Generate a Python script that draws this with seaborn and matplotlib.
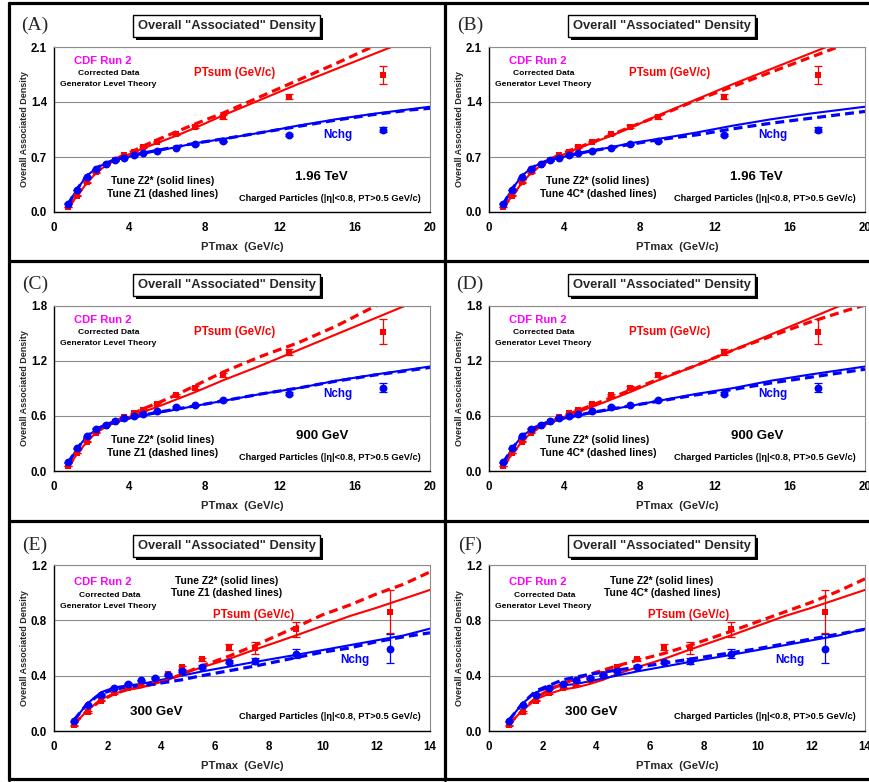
import numpy as np
import pandas as pd
import matplotlib
matplotlib.use("Agg")
import matplotlib.pyplot as plt
import seaborn as sns
from matplotlib.patches import Rectangle
from matplotlib.lines import Line2D

# ---------------- data ----------------
pt_bins = [0.75, 1.25, 1.75, 2.25, 2.75, 3.25, 3.75, 4.25, 4.75, 5.5, 6.5, 7.5, 9.0, 12.5, 17.5]
pt_bins_300 = [0.75, 1.25, 1.75, 2.25, 2.75, 3.25, 3.75, 4.25, 4.75, 5.5, 6.5, 7.5, 9.0, 12.5]

nchg_1960 = [0.106, 0.28, 0.44, 0.545, 0.61, 0.66, 0.69, 0.72, 0.75, 0.78, 0.82, 0.86, 0.90, 0.976, 1.05]
nchg_1960_err = [0.005, 0.005, 0.005, 0.005, 0.005, 0.005, 0.005, 0.005, 0.005, 0.005, 0.01, 0.01, 0.01, 0.015, 0.03]
ptsum_1960 = [0.063, 0.207, 0.376, 0.503, 0.60, 0.66, 0.72, 0.77, 0.83, 0.896, 0.99, 1.086, 1.21, 1.466, 1.74]
ptsum_1960_err = [0.005, 0.005, 0.005, 0.005, 0.005, 0.005, 0.005, 0.005, 0.01, 0.01, 0.01, 0.015, 0.02, 0.03, 0.115]

nchg_900 = [0.095, 0.25, 0.38, 0.46, 0.505, 0.545, 0.58, 0.595, 0.62, 0.65, 0.695, 0.715, 0.775, 0.845, 0.91]
nchg_900_err = [0.005, 0.005, 0.005, 0.005, 0.005, 0.005, 0.005, 0.005, 0.005, 0.005, 0.01, 0.01, 0.01, 0.015, 0.05]
ptsum_900 = [0.055, 0.196, 0.32, 0.42, 0.495, 0.54, 0.59, 0.63, 0.67, 0.735, 0.83, 0.91, 1.045, 1.30, 1.52]
ptsum_900_err = [0.005, 0.005, 0.005, 0.005, 0.005, 0.005, 0.005, 0.005, 0.01, 0.01, 0.01, 0.015, 0.02, 0.035, 0.14]

nchg_300 = [0.07, 0.186, 0.263, 0.311, 0.343, 0.367, 0.386, 0.403, 0.435, 0.464, 0.50, 0.505, 0.56, 0.596]
nchg_300_err = [0.005, 0.005, 0.005, 0.005, 0.005, 0.005, 0.005, 0.005, 0.005, 0.01, 0.01, 0.02, 0.03, 0.105]
ptsum_300 = [0.041, 0.138, 0.22, 0.275, 0.311, 0.33, 0.37, 0.415, 0.46, 0.517, 0.606, 0.60, 0.736, 0.862]
ptsum_300_err = [0.005, 0.005, 0.005, 0.005, 0.005, 0.005, 0.005, 0.005, 0.01, 0.01, 0.02, 0.04, 0.055, 0.155]

# theory curves (generator level)
pt_theory = [0.75, 1.25, 1.75, 2.25, 2.75, 3.25, 3.75, 4.25, 4.75, 5.5, 6.5, 7.5, 9, 11, 13, 15, 17, 19, 20]
pt_theory_300 = [0.75, 1.25, 1.75, 2.25, 2.75, 3.25, 3.75, 4.25, 4.75, 5.5, 6.5, 7.5, 9, 10, 11, 12, 13, 14]

z2_nchg_1960 = [0.10, 0.30, 0.46, 0.56, 0.62, 0.66, 0.69, 0.72, 0.745, 0.78, 0.825, 0.875, 0.93, 1.01, 1.10, 1.18, 1.25, 1.31, 1.34]
z1_nchg_1960 = [0.10, 0.30, 0.46, 0.56, 0.62, 0.665, 0.695, 0.725, 0.75, 0.785, 0.83, 0.875, 0.93, 1.01, 1.09, 1.17, 1.24, 1.30, 1.32]
c4_nchg_1960 = [0.10, 0.30, 0.46, 0.56, 0.62, 0.665, 0.695, 0.72, 0.745, 0.78, 0.82, 0.86, 0.92, 0.98, 1.06, 1.13, 1.19, 1.25, 1.28]
z2_ptsum_1960 = [0.06, 0.21, 0.37, 0.50, 0.59, 0.66, 0.71, 0.76, 0.81, 0.88, 0.97, 1.07, 1.23, 1.43, 1.63, 1.82, 2.01, 2.20, 2.30]
z1_ptsum_1960 = [0.06, 0.22, 0.38, 0.51, 0.60, 0.67, 0.73, 0.78, 0.84, 0.92, 1.02, 1.12, 1.26, 1.47, 1.68, 1.89, 2.11, 2.32, 2.42]
c4_ptsum_1960 = [0.06, 0.21, 0.37, 0.50, 0.60, 0.67, 0.73, 0.78, 0.82, 0.89, 0.98, 1.08, 1.22, 1.42, 1.60, 1.78, 1.96, 2.14, 2.23]

z2_nchg_900 = [0.09, 0.25, 0.38, 0.45, 0.50, 0.535, 0.56, 0.585, 0.605, 0.635, 0.67, 0.71, 0.765, 0.84, 0.905, 0.985, 1.05, 1.11, 1.14]
z1_nchg_900 = [0.09, 0.25, 0.38, 0.455, 0.505, 0.54, 0.565, 0.59, 0.61, 0.64, 0.675, 0.71, 0.765, 0.84, 0.905, 0.98, 1.045, 1.10, 1.13]
c4_nchg_900 = [0.09, 0.25, 0.38, 0.455, 0.505, 0.54, 0.565, 0.59, 0.61, 0.64, 0.675, 0.71, 0.76, 0.83, 0.89, 0.96, 1.02, 1.08, 1.11]
z2_ptsum_900 = [0.05, 0.19, 0.32, 0.42, 0.48, 0.53, 0.57, 0.61, 0.645, 0.70, 0.78, 0.86, 0.99, 1.15, 1.32, 1.49, 1.66, 1.83, 1.91]
z1_ptsum_900 = [0.05, 0.19, 0.33, 0.43, 0.49, 0.54, 0.59, 0.63, 0.68, 0.74, 0.83, 0.93, 1.08, 1.25, 1.40, 1.58, 1.79, 1.98, 2.07]
c4_ptsum_900 = [0.05, 0.19, 0.32, 0.42, 0.49, 0.54, 0.58, 0.62, 0.66, 0.72, 0.80, 0.88, 1.00, 1.15, 1.32, 1.47, 1.62, 1.75, 1.81]

z2_nchg_300 = [0.08, 0.20, 0.28, 0.315, 0.33, 0.34, 0.36, 0.38, 0.40, 0.43, 0.465, 0.50, 0.55, 0.585, 0.62, 0.655, 0.69, 0.74]
z1_nchg_300 = [0.08, 0.20, 0.27, 0.30, 0.32, 0.33, 0.34, 0.355, 0.37, 0.40, 0.435, 0.47, 0.53, 0.57, 0.60, 0.645, 0.68, 0.71]
c4_nchg_300 = [0.08, 0.20, 0.29, 0.33, 0.37, 0.39, 0.41, 0.425, 0.44, 0.46, 0.49, 0.52, 0.565, 0.595, 0.63, 0.665, 0.70, 0.735]
z2_ptsum_300 = [0.05, 0.15, 0.23, 0.27, 0.30, 0.315, 0.34, 0.37, 0.41, 0.46, 0.52, 0.59, 0.69, 0.76, 0.83, 0.89, 0.955, 1.02]
z1_ptsum_300 = [0.05, 0.15, 0.22, 0.27, 0.30, 0.32, 0.34, 0.37, 0.41, 0.47, 0.54, 0.62, 0.75, 0.84, 0.91, 0.99, 1.06, 1.15]
c4_ptsum_300 = [0.05, 0.15, 0.24, 0.30, 0.34, 0.38, 0.41, 0.44, 0.47, 0.51, 0.56, 0.62, 0.72, 0.79, 0.86, 0.93, 1.01, 1.10]

y_ticks_1960 = [0.0, 0.7, 1.4, 2.1]
y_ticks_900 = [0.0, 0.6, 1.2, 1.8]
y_ticks_300 = [0.0, 0.4, 0.8, 1.2]
x_ticks_high = [0, 4, 8, 12, 16, 20]
x_ticks_300 = [0, 2, 4, 6, 8, 10, 12, 14]

panel_labels = ["(A)", "(B)", "(C)", "(D)", "(E)", "(F)"]
energy_labels = ["1.96 TeV", "1.96 TeV", "900 GeV", "900 GeV", "300 GeV", "300 GeV"]
dashed_tune_labels = ["Tune Z1 (dashed lines)", "Tune 4C* (dashed lines)"] * 3
title_text = 'Overall "Associated" Density'

# ---------------- styling ----------------
sns.set_style("white")
plt.rcParams["font.family"] = ["Liberation Sans", "DejaVu Sans"]
plt.rcParams["font.weight"] = "bold"
plt.rcParams["axes.labelweight"] = "bold"

W, H = 870, 782
fig = plt.figure(figsize=(W / 100, H / 100), dpi=100)
fig.patch.set_facecolor("white")

def rect_px(l, t, r, b):
    return [l / W, 1 - b / H, (r - l) / W, (b - t) / H]

RED = "#FF0000"
BLUE = "#0000FF"
MAG = "#FF00FF"
GRID = "#8c8c8c"
DASH = (0, (2.8, 1.6))

col_off = [0, 435]
row_axes = [(47, 212), (306, 471), (565, 731)]
row_top = [0, 259, 518]

datasets = [
    dict(xd=pt_bins, n=nchg_1960, ne=nchg_1960_err, p=ptsum_1960, pe=ptsum_1960_err,
         xt=pt_theory, zn=z2_nchg_1960, zp=z2_ptsum_1960,
         dn=[z1_nchg_1960, c4_nchg_1960], dp=[z1_ptsum_1960, c4_ptsum_1960],
         yt=y_ticks_1960, xt_ticks=x_ticks_high, fmt="{:.1f}"),
    dict(xd=pt_bins, n=nchg_900, ne=nchg_900_err, p=ptsum_900, pe=ptsum_900_err,
         xt=pt_theory, zn=z2_nchg_900, zp=z2_ptsum_900,
         dn=[z1_nchg_900, c4_nchg_900], dp=[z1_ptsum_900, c4_ptsum_900],
         yt=y_ticks_900, xt_ticks=x_ticks_high, fmt="{:.1f}"),
    dict(xd=pt_bins_300, n=nchg_300, ne=nchg_300_err, p=ptsum_300, pe=ptsum_300_err,
         xt=pt_theory_300, zn=z2_nchg_300, zp=z2_ptsum_300,
         dn=[z1_nchg_300, c4_nchg_300], dp=[z1_ptsum_300, c4_ptsum_300],
         yt=y_ticks_300, xt_ticks=x_ticks_300, fmt="{:.1f}"),
]

# text layouts (axes fractions)
lay_high = dict(cdf=(0.13, 0.915), corr=(0.145, 0.84), gen=(0.145, 0.772),
                ptsum=(0.48, 0.843), nchg=(0.755, 0.466),
                tz2=(0.29, 0.19), tdash=(0.29, 0.11),
                energy=(0.712, 0.215), charged=(0.735, 0.08))
lay_300 = dict(cdf=(0.13, 0.90), corr=(0.147, 0.815), gen=(0.145, 0.747),
               ptsum=(0.53, 0.698), nchg=(0.80, 0.427),
               tz2=(0.46, 0.905), tdash=(0.46, 0.833),
               energy=(0.273, 0.115), charged=(0.735, 0.089))

for idx in range(6):
    r, c = divmod(idx, 2)
    d = datasets[r]
    ox = col_off[c]
    top, bot = row_axes[r]
    ax = fig.add_axes(rect_px(54 + ox, top, 430 + ox, bot))
    ax.set_facecolor("white")

    # theory lines
    sns.lineplot(x=d["xt"], y=d["zp"], ax=ax, color=RED, lw=1.5, errorbar=None, sort=False, zorder=2)
    sns.lineplot(x=d["xt"], y=d["zn"], ax=ax, color=BLUE, lw=1.5, errorbar=None, sort=False, zorder=2)
    sns.lineplot(x=d["xt"], y=d["dp"][c], ax=ax, color=RED, lw=2.3, linestyle=DASH, errorbar=None, sort=False, zorder=2)
    sns.lineplot(x=d["xt"], y=d["dn"][c], ax=ax, color=BLUE, lw=2.3, linestyle=DASH, errorbar=None, sort=False, zorder=2)

    # data with error bars
    ax.errorbar(d["xd"], d["p"], yerr=d["pe"], fmt="none", ecolor=RED, elinewidth=0.9, capsize=2.6, capthick=0.9, zorder=3)
    ax.errorbar(d["xd"], d["n"], yerr=d["ne"], fmt="none", ecolor=BLUE, elinewidth=0.9, capsize=2.6, capthick=0.9, zorder=3)
    sns.scatterplot(x=d["xd"], y=d["p"], ax=ax, marker="s", s=20, color=RED, edgecolor=RED, linewidth=0, zorder=4, legend=False)
    sns.scatterplot(x=d["xd"], y=d["n"], ax=ax, marker="o", s=32, color=BLUE, edgecolor=BLUE, linewidth=0, zorder=5, legend=False)

    # axes formatting
    yt = d["yt"]
    xt = d["xt_ticks"]
    ax.set_ylim(yt[0], yt[-1])
    ax.set_xlim(xt[0], xt[-1])
    ax.set_yticks(yt)
    ax.set_yticklabels([d["fmt"].format(v) for v in yt])
    ax.set_xticks(xt)
    ax.set_xticklabels([str(v) for v in xt])
    ax.tick_params(axis="both", which="major", direction="out", length=3, width=0.8,
                   labelsize=8.3, colors="black", pad=2)
    ax.tick_params(axis="x", pad=4)
    ax.yaxis.grid(True, color=GRID, lw=0.8)
    ax.xaxis.grid(False)
    ax.set_axisbelow(True)
    for side in ["left", "bottom"]:
        ax.spines[side].set_color("black")
        ax.spines[side].set_linewidth(1.0)
    for side in ["top", "right"]:
        ax.spines[side].set_color(GRID)
        ax.spines[side].set_linewidth(0.8)
    ax.set_xlabel("PTmax  (GeV/c)", fontsize=8.1, fontweight="bold", labelpad=6)
    ax.set_ylabel("Overall Associated Density", fontsize=6.5, fontweight="bold", labelpad=1.5)

    lay = lay_300 if r == 2 else lay_high
    T = ax.transAxes
    ax.text(*lay["cdf"], "CDF Run 2", color=MAG, fontsize=8.1, fontweight="bold", ha="center", va="center", transform=T)
    ax.text(*lay["corr"], "Corrected Data", color="black", fontsize=6.1, fontweight="bold", ha="center", va="center", transform=T)
    ax.text(*lay["gen"], "Generator Level Theory", color="black", fontsize=6.1, fontweight="bold", ha="center", va="center", transform=T)
    ax.text(*lay["ptsum"], "PTsum (GeV/c)", color=RED, fontsize=8.3, fontweight="bold", ha="center", va="center", transform=T)
    ax.text(*lay["nchg"], "Nchg", color=BLUE, fontsize=8.4, fontweight="bold", ha="center", va="center", transform=T)
    ax.text(*lay["tz2"], "Tune Z2* (solid lines)", color="black", fontsize=7.4, fontweight="bold", ha="center", va="center", transform=T)
    ax.text(*lay["tdash"], dashed_tune_labels[idx], color="black", fontsize=7.4, fontweight="bold", ha="center", va="center", transform=T)
    ax.text(*lay["energy"], energy_labels[idx], color="black", fontsize=9.5, fontweight="bold", ha="center", va="center", transform=T)
    ax.text(*lay["charged"], "Charged Particles (|\u03b7|<0.8, PT>0.5 GeV/c)", color="black", fontsize=6.7,
            fontweight="bold", ha="center", va="center", transform=T)

    # title box with shadow
    yoff = row_top[r]
    bl, bt, br, bb = 133 + ox, 15 + yoff + (2 if r == 2 else 0), 320 + ox, 37 + yoff + (2 if r == 2 else 0)
    fig.patches.append(Rectangle((bl / W + 3 / W, 1 - (bb + 3) / H), (br - bl) / W, (bb - bt) / H,
                                 transform=fig.transFigure, facecolor="black", edgecolor="black", lw=0, zorder=5))
    fig.patches.append(Rectangle((bl / W, 1 - bb / H), (br - bl) / W, (bb - bt) / H,
                                 transform=fig.transFigure, facecolor="white", edgecolor="black", lw=1.0, zorder=6))
    fig.text((bl + br) / 2 / W, 1 - (bt + bb) / 2 / H, title_text, fontsize=9.3, fontweight="bold",
             ha="center", va="center", zorder=7)
    # panel label
    fig.text((35 + ox) / W, 1 - (25 + yoff + (2 if r == 2 else 0)) / H, panel_labels[idx],
             family=["Liberation Serif", "DejaVu Serif"], fontweight="normal", fontsize=14,
             ha="center", va="center")

# panel frame grid
lw_frame = 2.3
for xpx in [9, 445]:
    fig.lines.append(Line2D([xpx / W, xpx / W], [1 - 3 / H, 1 - 780 / H], transform=fig.transFigure,
                            color="black", lw=lw_frame))
for ypx in [3, 261, 521, 779]:
    fig.lines.append(Line2D([9 / W, 1.0], [1 - ypx / H, 1 - ypx / H], transform=fig.transFigure,
                            color="black", lw=lw_frame))

fig.savefig("out.png", dpi=100, facecolor="white")
